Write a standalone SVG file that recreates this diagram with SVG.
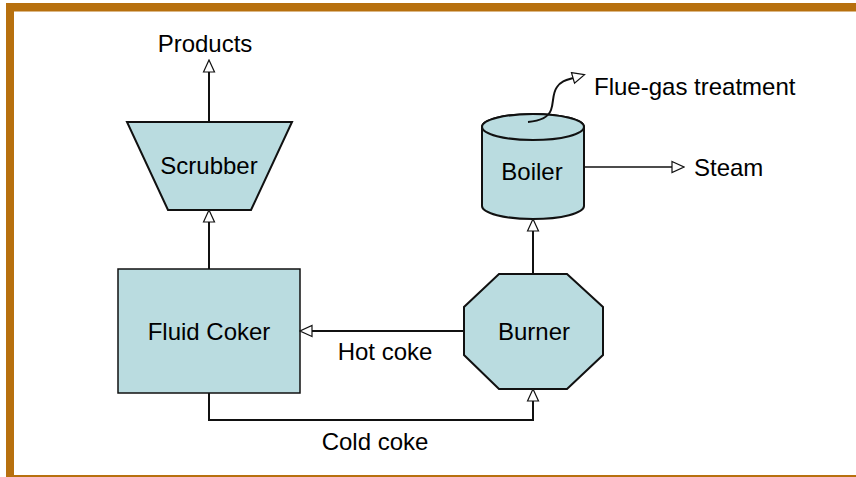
<svg xmlns="http://www.w3.org/2000/svg" width="856" height="477" viewBox="0 0 856 477">
<style>
.node{fill:#BADCE0;stroke:#111;stroke-width:2}
.lbl{font-family:"Liberation Sans",Arial,sans-serif;font-size:24px;fill:#000}
.c{text-anchor:middle}
.conn{fill:none;stroke:#111;stroke-width:2}
.frame{fill:#B7700E}
</style>
<defs>
<marker id="oa" markerUnits="userSpaceOnUse" markerWidth="14" markerHeight="14" viewBox="-1 -7 14 14" refX="0" refY="0" orient="auto">
<path d="M0,-5.5 L12,0 L0,5.5 Z" fill="#fff" stroke="#111" stroke-width="1.2"/>
</marker>
</defs>
<rect width="856" height="477" fill="#fff"/>
<g id="frame">
<rect class="frame" x="6" y="3" width="850" height="8.5"/>
<rect class="frame" x="6" y="3" width="8" height="474"/>
<rect class="frame" x="6" y="475" width="850" height="2"/>
</g>
<g id="products"><text class="lbl c" x="205" y="52">Products</text></g>
<g id="scrubber">
<polygon class="node" points="127,122 292,122 251,210 168,210"/>
<text class="lbl c" x="209" y="174">Scrubber</text>
</g>
<g id="fluid-coker">
<rect class="node" x="118" y="269" width="182" height="124" style="stroke-width:1.5"/>
<text class="lbl c" x="209" y="340">Fluid Coker</text>
</g>
<g id="burner">
<polygon class="node" points="499,274 567,274 603,307 603,355 567,389 499,389 464,355 464,307"/>
<text class="lbl c" x="534" y="340">Burner</text>
</g>
<g id="boiler">
<path class="node" d="M482,127 L482,206 A51,13 0 0 0 584,206 L584,127 A51,13 0 0 0 482,127 Z"/>
<ellipse class="node" cx="533" cy="127" rx="51" ry="13"/>
<text class="lbl c" x="532" y="180">Boiler</text>
</g>
<g id="labels">
<text class="lbl" x="594" y="95">Flue-gas treatment</text>
<text class="lbl" x="694" y="176">Steam</text>
<text class="lbl c" x="385" y="360">Hot coke</text>
<text class="lbl c" x="375" y="450">Cold coke</text>
</g>
<g id="connectors">
<path class="conn" d="M209,122 L209,72" marker-end="url(#oa)"/>
<path class="conn" d="M209,269 L209,222" marker-end="url(#oa)"/>
<path class="conn" d="M464,331 L312,331" marker-end="url(#oa)"/>
<path class="conn" d="M209,393 L209,420 L533,420 L533,401" marker-end="url(#oa)"/>
<path class="conn" d="M533,275 L533,231" marker-end="url(#oa)"/>
<path class="conn" style="stroke-width:1.5" d="M584,167 L672,167" marker-end="url(#oa)"/>
<path class="conn" d="M528,122 C540,121 548,118 551,110 C554,102 552,94 557,87 C561,81 566,80 573,78" marker-end="url(#oa)"/>
</g>
</svg>
